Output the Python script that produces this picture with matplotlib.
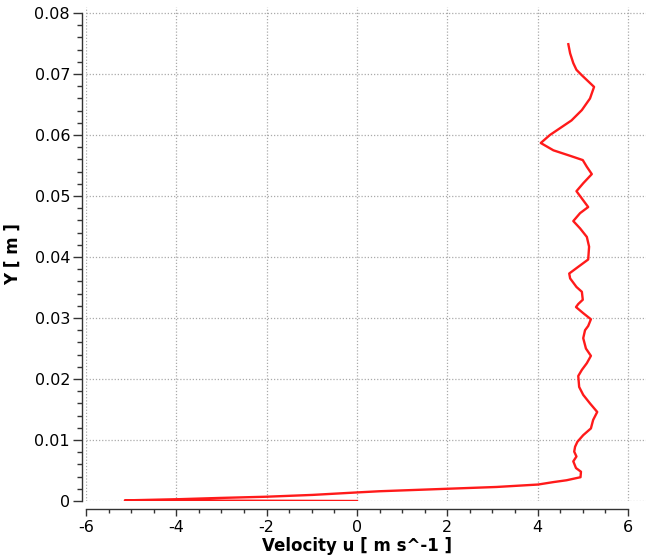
import matplotlib
matplotlib.use("Agg")
import matplotlib.pyplot as plt
from matplotlib.ticker import MultipleLocator

velocity_u = [4.68, 4.72, 4.79, 4.86, 4.98, 5.25, 5.16, 4.98, 4.75, 4.49,
              4.27, 4.07, 4.35, 4.72, 5.00, 5.09, 5.20, 5.01, 4.86, 4.98,
              5.12, 4.94, 4.79, 4.94, 5.09, 5.14, 5.12, 4.90, 4.70, 4.72,
              4.86, 4.98, 5.00, 4.90, 4.85, 5.01, 5.18, 5.12, 5.05, 5.01,
              5.07, 5.18, 5.09, 4.98, 4.90, 4.92, 5.01, 5.16, 5.32, 5.23,
              5.18, 5.01, 4.88, 4.83, 4.81, 4.86, 4.79, 4.85, 4.96, 4.95,
              4.64, 4.35, 4.01, 3.09, 1.98, 0.50, -0.01, -0.98, -2.01, -3.04,
              -3.93, -5.14, 0.0]
y_m = [0.0749, 0.0734, 0.0718, 0.0707, 0.0698, 0.0679, 0.0660, 0.0641, 0.0624, 0.0611,
       0.0600, 0.0587, 0.0575, 0.0566, 0.0559, 0.0548, 0.0536, 0.0521, 0.0508, 0.0496,
       0.0482, 0.0472, 0.0459, 0.0447, 0.0433, 0.0417, 0.0396, 0.0384, 0.0373, 0.0365,
       0.0351, 0.0343, 0.0330, 0.0323, 0.0318, 0.0308, 0.0298, 0.0287, 0.0280, 0.0267,
       0.0250, 0.0238, 0.0226, 0.0215, 0.0205, 0.0187, 0.0174, 0.0160, 0.0146, 0.0133,
       0.0119, 0.0108, 0.0097, 0.0089, 0.0081, 0.0073, 0.0065, 0.0054, 0.0048, 0.0039,
       0.0034, 0.0031, 0.0027, 0.0023, 0.0020, 0.0016, 0.0014, 0.0010, 0.0007, 0.0005,
       0.0003, 0.0001, 0.0]

x_ticks = [-6, -4, -2, 0, 2, 4, 6]
x_tick_labels = ["-6", "-4", "-2", "0", "2", "4", "6"]
y_ticks = [0, 0.01, 0.02, 0.03, 0.04, 0.05, 0.06, 0.07, 0.08]
y_tick_labels = ["0", "0.01", "0.02", "0.03", "0.04", "0.05", "0.06", "0.07", "0.08"]

W, H = 649, 557
fig = plt.figure(figsize=(W / 100, H / 100), dpi=100)
ax = fig.add_axes([86 / W, (H - 501) / H, (646 - 86) / W, (501 - 7) / H])

ax.plot(velocity_u, y_m, color="#ff1a1a", lw=1.7, zorder=3)

ax.set_xlim(-6, 6.4)
ax.set_ylim(0, 0.081)

ax.set_xticks(x_ticks)
ax.set_xticklabels(x_tick_labels)
ax.set_yticks(y_ticks)
ax.set_yticklabels(y_tick_labels)
ax.xaxis.set_minor_locator(MultipleLocator(0.5))
ax.yaxis.set_minor_locator(MultipleLocator(0.002))

ax.grid(True, which="major", linestyle=(0, (1, 1.5)), color="#aaaaaa", lw=0.9)
ax.set_axisbelow(True)

for s in ["top", "right"]:
    ax.spines[s].set_visible(False)
ax.spines["left"].set_position(("outward", 3))
ax.spines["bottom"].set_position(("outward", 5.5))
ax.spines["left"].set_bounds(0, 0.08)
ax.spines["bottom"].set_bounds(-6, 6)
for s in ["left", "bottom"]:
    ax.spines[s].set_color("#333333")
    ax.spines[s].set_linewidth(1.0)

ax.tick_params(which="major", direction="out", colors="#333333", labelcolor="black",
               labelsize=11.5)
ax.tick_params(axis="y", which="major", length=6.5, width=1.0, pad=2)
ax.tick_params(axis="y", which="minor", length=3.5, width=1.0, colors="#333333")
ax.tick_params(axis="x", which="major", length=5, width=1.0, pad=3)
ax.tick_params(axis="x", which="minor", length=3, width=1.0, colors="#333333")

ax.set_xlabel("Velocity u [ m s^-1 ]", fontsize=12, fontweight="bold")
ax.set_ylabel("Y [ m ]", fontsize=12, fontweight="bold")
ax.xaxis.set_label_coords((357 - 86) / 560, (501 - 537) / 494)
ax.yaxis.set_label_coords((22 - 86) / 560, 0.5)

fig.savefig("out.png", dpi=100)
